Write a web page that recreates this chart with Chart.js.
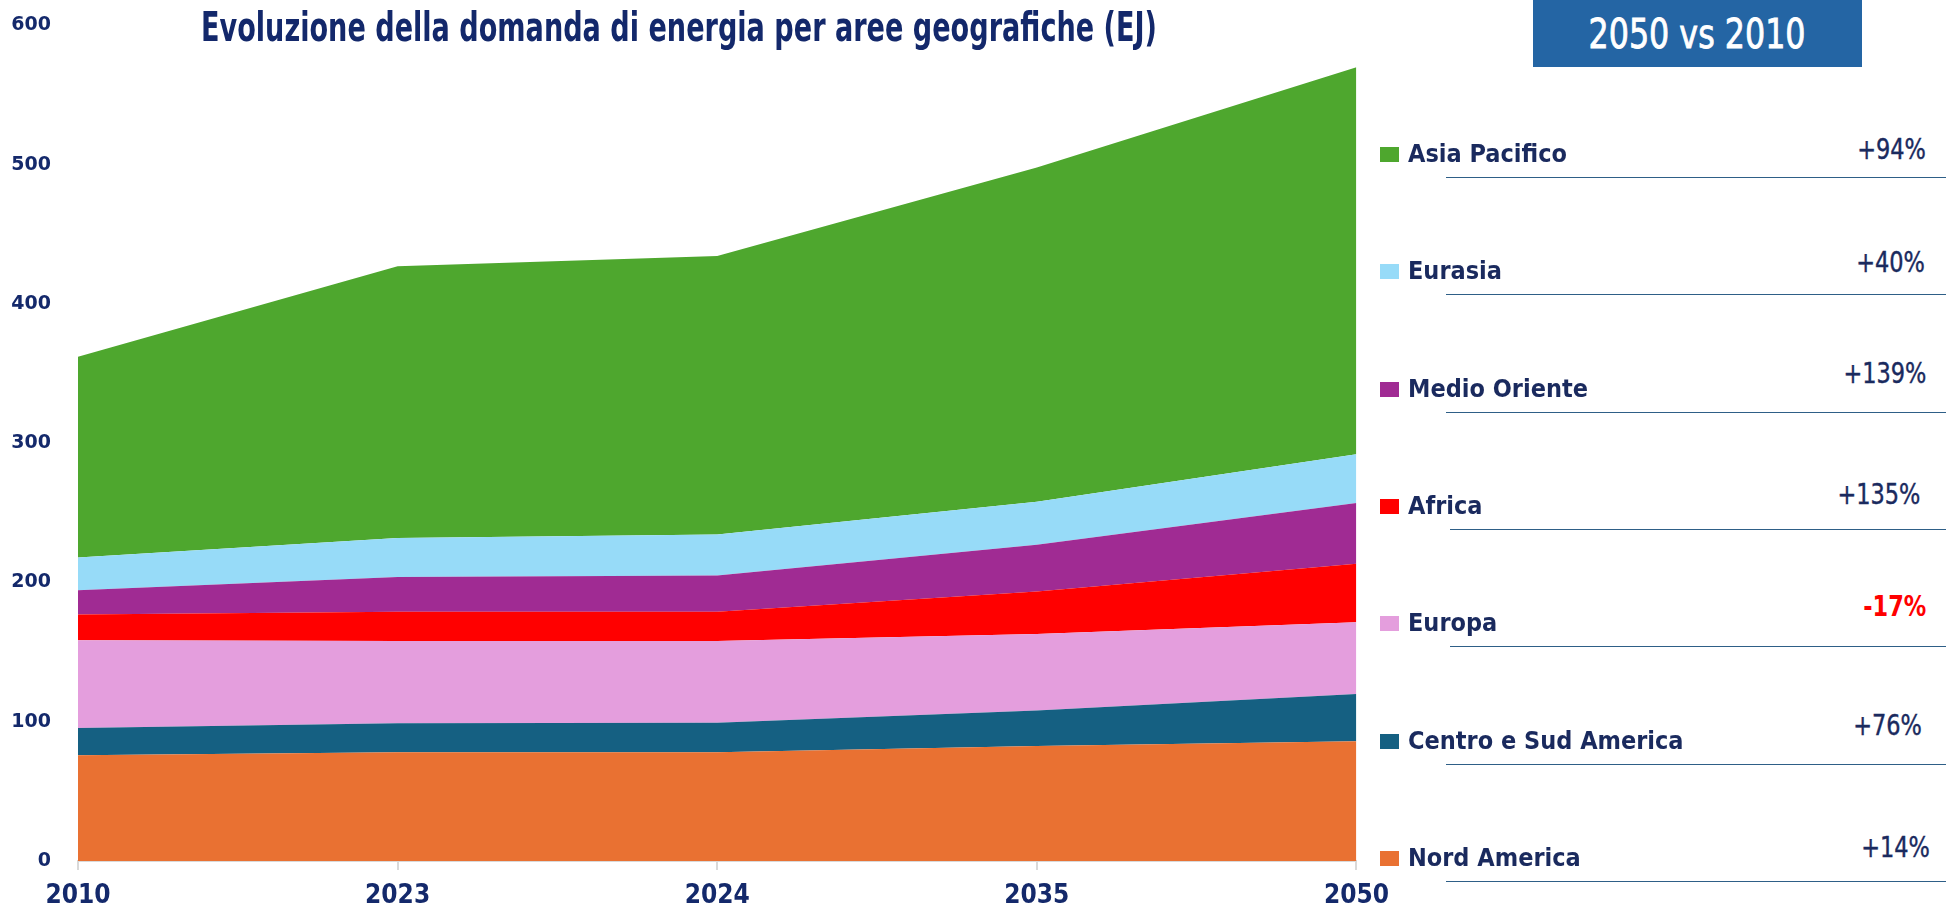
<!DOCTYPE html>
<html>
<head>
<meta charset="utf-8">
<script src="https://cdn.jsdelivr.net/npm/chart.js@4.4.1/dist/chart.umd.min.js"></script>
<style>
  html, body { margin: 0; padding: 0; background: #fff; }
  body {
    width: 1946px; height: 912px; position: relative; overflow: hidden;
    font-family: 'Liberation Sans Narrow', 'DejaVu Sans Condensed', sans-serif;
  }
  #wrap { position: absolute; left: 0; top: -13px; width: 1400px; height: 925px; }
  #title {
    position: absolute; left: 201px; top: 7px; font-size: 40px; line-height: 40px;
    font-weight: bold; color: #13286b; white-space: nowrap; transform-origin: 0 0;
  }
  #badge {
    position: absolute; left: 1533px; top: 0; width: 329px; height: 67px;
    background: #2465a4; color: #fff; display: flex; align-items: center; justify-content: center;
  }
  #badge span {
    font-size: 40px; line-height: 40px; white-space: nowrap; display: inline-block;
    -webkit-text-stroke: 0.8px #fff;
  }
  .sw { position: absolute; left: 1380px; width: 19px; height: 15px; }
  .lab {
    position: absolute; left: 1408px; font-size: 25px; line-height: 26px; font-weight: bold;
    color: #1a2a5e; white-space: nowrap;
  }
  .pct {
    position: absolute; font-size: 29px; line-height: 30px; color: #1a2a5e;
    white-space: nowrap; transform: scaleX(0.86); transform-origin: 100% 50%;
    -webkit-text-stroke: 0.4px #1a2a5e;
  }
  .pct.neg { color: #ff0000; font-weight: bold; -webkit-text-stroke: 0; }
  .rule { position: absolute; width: 500px; height: 0; border-top: 1.5px solid #2e5f87; }
</style>
</head>
<body>
<div id="wrap"><canvas id="chart" width="1400" height="925"></canvas></div>
<div id="title">Evoluzione della domanda di energia per aree geografiche (EJ)</div>
<div id="badge"><span>2050 vs 2010</span></div>
<div id="legend"></div>
<script>
const years = ['2010', '2023', '2024', '2035', '2050'];

// EJ, one band per area (stacked from the bottom)
const nordAmerica      = [76, 78, 78, 82.5, 86];
const centroSudAmerica = [19.5, 21, 21.3, 25.5, 34];
const europa           = [63, 59, 58.7, 55, 51.5];
const africa           = [18.5, 21, 21, 30.5, 42];
const medioOriente     = [17.5, 25, 26, 33.5, 43.5];
const eurasia          = [23.5, 28, 29.5, 31, 35];
const asiaPacifico     = [144, 195, 200, 240, 278];

const seriesNames = ['Nord America', 'Centro e Sud America', 'Europa', 'Africa', 'Medio Oriente', 'Eurasia', 'Asia Pacifico'];
const seriesData = [nordAmerica, centroSudAmerica, europa, africa, medioOriente, eurasia, asiaPacifico];
const seriesColors = ['#e97132', '#156082', '#e49edd', '#ff0000', '#a02b93', '#97dbf8', '#4ea72e'];
const variazioni = ['+14%', '+76%', '-17%', '+135%', '+139%', '+40%', '+94%'];

const Y_MIN = 0;
const Y_MAX = 600;
const Y_STEP = 100;

const NAVY = '#14296b';

// small hand offsets of the % labels, top row first (as in the slide)
const pctDy = [-5, -9, -16, -12, -17, -16, -11];
const pctDx = [0, 1, 0, 6, 0, 4, -4];
const ruleX = [1446, 1446, 1446, 1450, 1450, 1446, 1446];

function fitWidth(el, target) {
  const w = el.getBoundingClientRect().width;
  if (w > 0) el.style.transform = `scaleX(${target / w})`;
}

function buildLegend() {
  const host = document.getElementById('legend');
  const n = seriesNames.length;
  for (let k = 0; k < n; k++) {
    const i = n - 1 - k; // top row = last series
    const yc = 154 + k * 117.3;
    const sw = document.createElement('div');
    sw.className = 'sw';
    sw.style.top = `${yc - 7}px`;
    sw.style.background = seriesColors[i];
    host.appendChild(sw);

    const lab = document.createElement('div');
    lab.className = 'lab';
    lab.style.top = `${yc - 13}px`;
    lab.textContent = seriesNames[i];
    host.appendChild(lab);

    const pct = document.createElement('div');
    pct.className = 'pct' + (variazioni[i].startsWith('-') ? ' neg' : '');
    pct.style.top = `${yc + pctDy[k] - 15}px`;
    pct.style.right = `${20 + pctDx[k]}px`;
    pct.textContent = variazioni[i];
    host.appendChild(pct);

    const rule = document.createElement('div');
    rule.className = 'rule';
    rule.style.top = `${yc + 23}px`;
    rule.style.left = `${ruleX[k]}px`;
    host.appendChild(rule);
  }
}

function renderChart() {
  const datasets = seriesData.map((data, i) => ({
    label: seriesNames[i],
    data,
    backgroundColor: seriesColors[i],
    borderColor: seriesColors[i],
    borderWidth: 0,
    pointRadius: 0,
    tension: 0,
    fill: i === 0 ? 'origin' : '-1'
  }));

  new Chart(document.getElementById('chart'), {
    type: 'line',
    data: { labels: years, datasets },
    options: {
      responsive: false,
      animation: false,
      devicePixelRatio: 1,
      layout: { padding: { top: 9, right: 42, left: 0, bottom: 0 } },
      plugins: { legend: { display: false }, tooltip: { enabled: false } },
      scales: {
        x: {
          offset: false,
          grid: { display: true, drawOnChartArea: false, drawTicks: true, tickLength: 9, color: '#d9d9d9', lineWidth: 2 },
          border: { display: true, color: '#d9d9d9', width: 2 },
          ticks: {
            color: NAVY, padding: 11, maxRotation: 0,
            font: { family: "'Liberation Sans Narrow', 'DejaVu Sans Condensed', sans-serif", size: 26, weight: 'bold' }
          },
          afterFit: (scale) => { scale.height = 51; }
        },
        y: {
          stacked: true,
          min: Y_MIN, max: Y_MAX,
          grid: { display: false, drawTicks: false },
          border: { display: false },
          ticks: {
            stepSize: Y_STEP, color: NAVY, padding: 27,
            font: { family: "'DejaVu Sans', sans-serif", size: 19, weight: 'bold' }
          },
          afterFit: (scale) => { scale.width = 78; }
        }
      }
    }
  });
}

buildLegend();
renderChart();
fitWidth(document.getElementById('title'), 956);
fitWidth(document.querySelector('#badge span'), 217);
</script>
</body>
</html>
